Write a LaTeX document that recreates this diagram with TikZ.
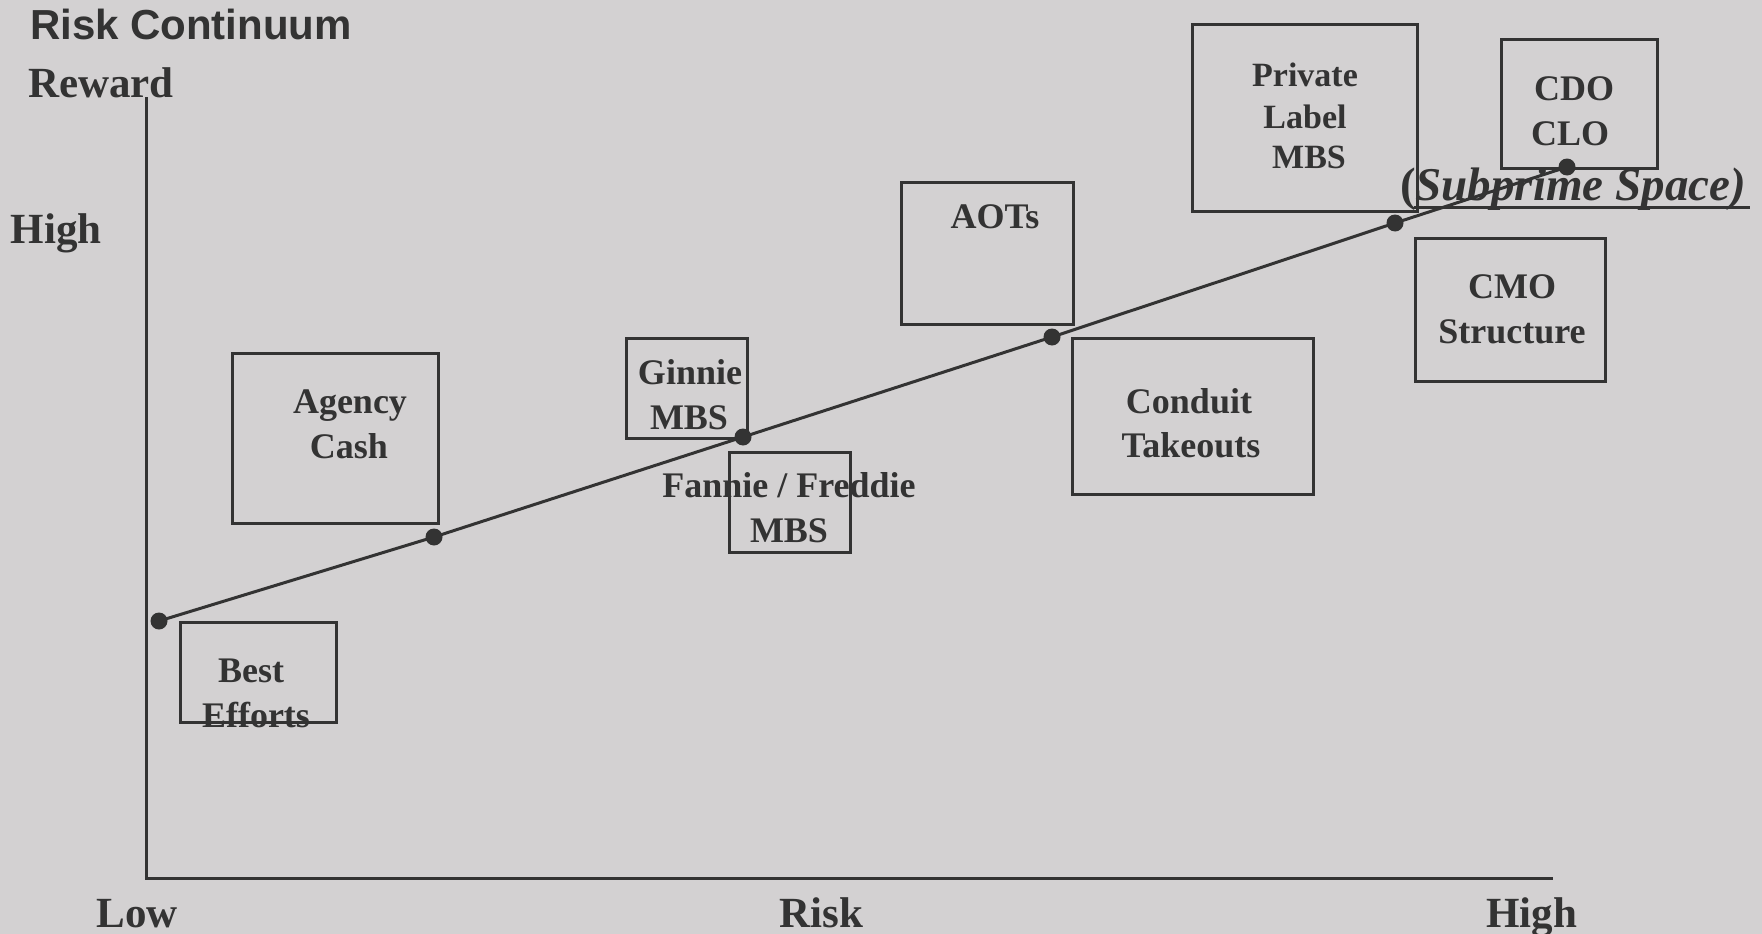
\documentclass[tikz,border=0pt]{standalone}
\usepackage{fontspec}
\setmainfont{Liberation Serif}
\newfontfamily\hdfont{Liberation Sans}
\definecolor{bgc}{RGB}{211,209,210}
\definecolor{ink}{RGB}{51,51,51}
\tikzset{
  boxn/.style={draw=ink, line width=3pt, inner sep=0pt, outer sep=0pt},
  lbl/.style={text=ink, inner sep=0pt, anchor=base, font=\bfseries\fontsize{36}{36}\selectfont},
  lblsm/.style={lbl, font=\bfseries\fontsize{34}{34}\selectfont},
  axlbl/.style={lbl, font=\bfseries\fontsize{43}{43}\selectfont},
  dotn/.style={circle, fill=ink, inner sep=0pt, minimum size=17pt},
  ln/.style={draw=ink, line width=3pt},
}
\begin{document}
\begin{tikzpicture}[x=1pt,y=-1pt]
\fill[bgc] (0,0) rectangle (1762,934);
\useasboundingbox (0,0) rectangle (1762,934);

% titles and axis labels
\node[lbl, font=\hdfont\bfseries\fontsize{42}{42}\selectfont] (title) at (191,40) {Risk Continuum};
\node[axlbl] (reward) at (101,97) {Reward};
\node[axlbl] (highy) at (56,243) {High};
\node[axlbl] (low) at (137,927) {Low};
\node[axlbl] (risk) at (821.5,927) {Risk};
\node[axlbl] (highx) at (1531.5,927) {High};

% axes
\coordinate (ytop) at (146,97);
\coordinate (orig) at (146,878);
\coordinate (xend) at (1553,878);
\draw[ln] (ytop) -- (orig) -- (xend);

% boxes
\node[boxn, minimum width=156pt, minimum height=100pt] (bebox) at (258,672) {};
\node[boxn, minimum width=206pt, minimum height=170pt] (agbox) at (335,438) {};
\node[boxn, minimum width=121pt, minimum height=100pt] (gnbox) at (686.5,388) {};
\node[boxn, minimum width=121pt, minimum height=100pt] (ffbox) at (789.5,502) {};
\node[boxn, minimum width=172pt, minimum height=142pt] (aobox) at (987,253) {};
\node[boxn, minimum width=241pt, minimum height=156pt] (cdbox) at (1192.5,416) {};
\node[boxn, minimum width=225pt, minimum height=186pt] (plbox) at (1304.5,118) {};
\node[boxn, minimum width=156pt, minimum height=128pt] (cobox) at (1579,104) {};
\node[boxn, minimum width=190pt, minimum height=143pt] (cmbox) at (1510,309.5) {};

% box labels
\node[lbl] (be1) at (251,682) {Best};
\node[lbl] (be2) at (256,727) {Efforts};
\node[lbl] (ag1) at (350,413) {Agency};
\node[lbl] (ag2) at (349,458) {Cash};
\node[lbl] (gn1) at (690,384) {Ginnie};
\node[lbl] (gn2) at (689,429) {MBS};
\node[lbl] (ff1) at (789,497) {Fannie / Freddie};
\node[lbl] (ff2) at (789,542) {MBS};
\node[lbl] (ao1) at (995,228) {AOTs};
\node[lbl] (cd1) at (1189,413) {Conduit};
\node[lbl] (cd2) at (1191,457) {Takeouts};
\node[lblsm] (pl1) at (1305,87) {Private};
\node[lblsm] (pl2) at (1305,128) {Label};
\node[lblsm] (pl3) at (1309,168) {MBS};
\node[lbl] (co1) at (1574,100) {CDO};
\node[lbl] (co2) at (1570,145) {CLO};
\node[lbl] (cm1) at (1512,298) {CMO};
\node[lbl] (cm2) at (1512,343) {Structure};

% subprime label
\node[lbl, font=\bfseries\itshape\fontsize{47}{47}\selectfont] (sub) at (1573,200) {{\upshape(}Subprime Space)};
\coordinate (ul1) at (1414,207);
\coordinate (ul2) at (1750,207);
\draw[ink, line width=3pt] (ul1) -- (ul2);

% continuum line with dots
\node[dotn] (d1) at (159,621) {};
\node[dotn] (d2) at (434,537) {};
\node[dotn] (d3) at (743,437) {};
\node[dotn] (d4) at (1052,337) {};
\node[dotn] (d5) at (1395,223) {};
\node[dotn] (d6) at (1567,167) {};
\draw[ln] (d1.center) -- (d2.center) -- (d3.center) -- (d4.center) -- (d5.center) -- (d6.center);
\end{tikzpicture}
\end{document}
